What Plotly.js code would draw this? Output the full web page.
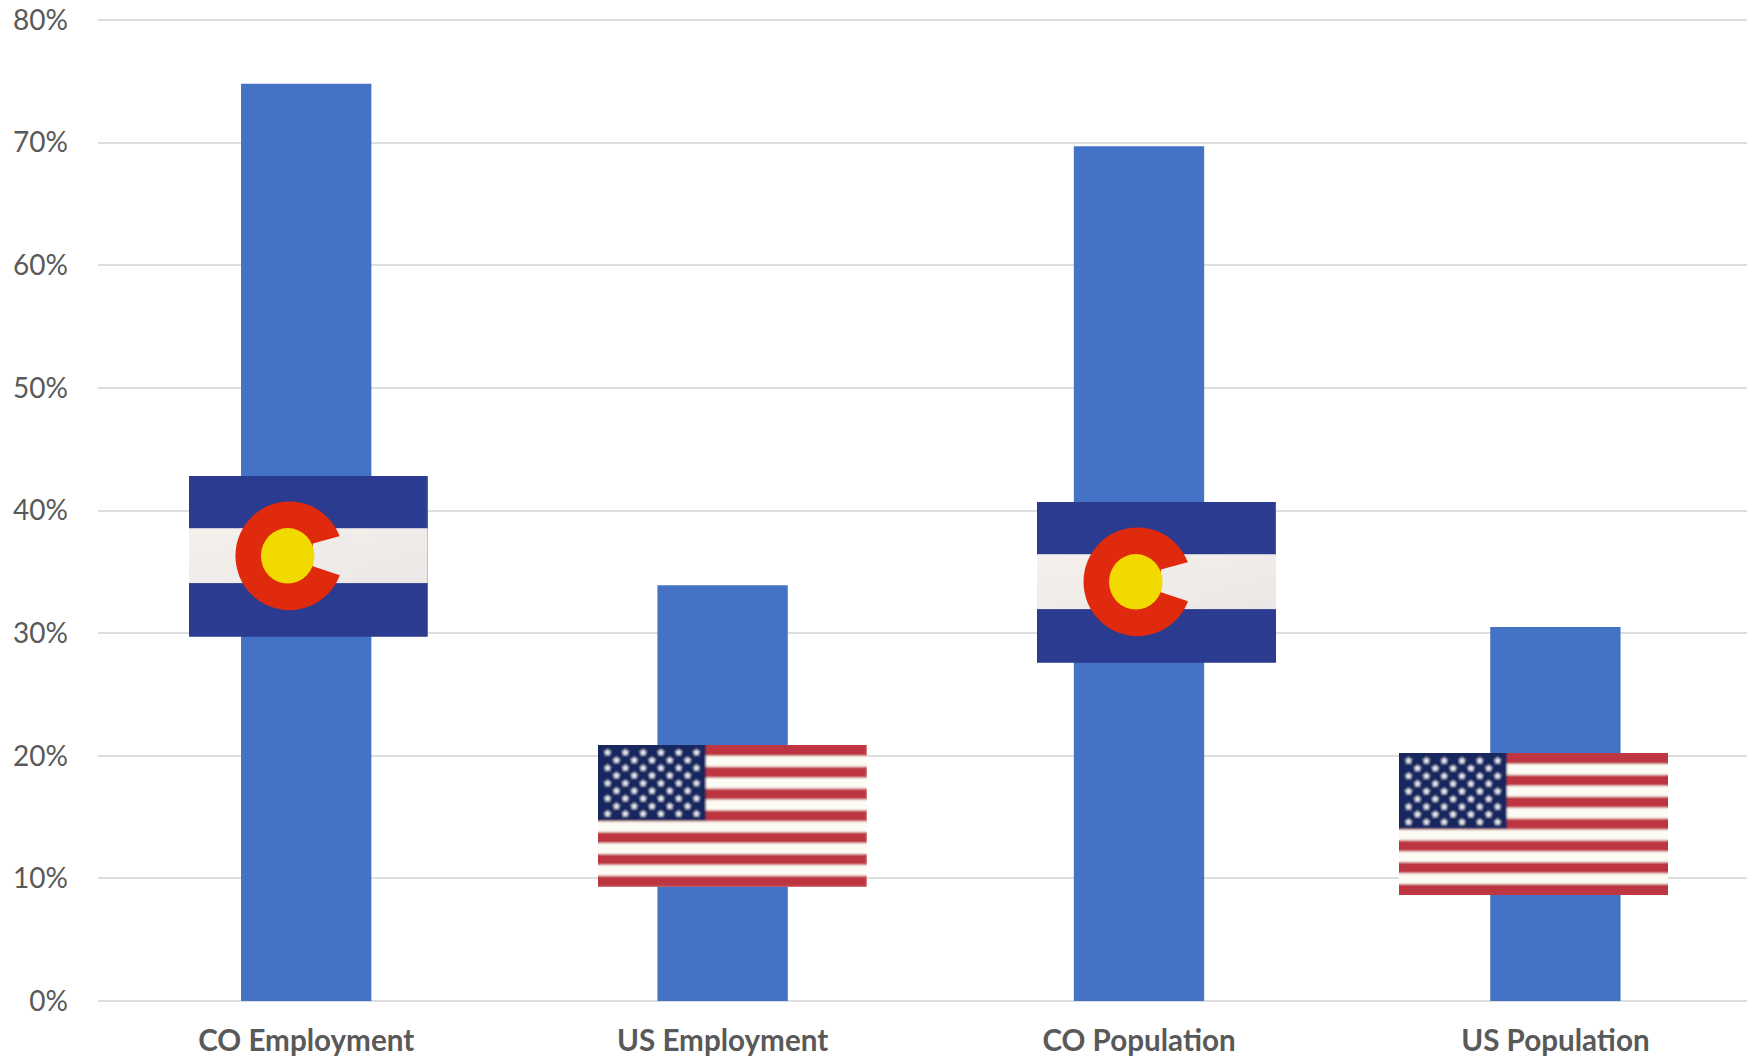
<!DOCTYPE html>
<html>
<head>
<meta charset="utf-8">
<script src="https://cdn.plot.ly/plotly-3.0.1.min.js"></script>
<style>html,body{margin:0;padding:0;background:#fff;overflow:hidden}#chart{width:1747px;height:1059px}</style>
</head>
<body>
<div id="chart"></div>
<script>
// Share of employment and population, Colorado against the United States
const categories = ['CO Employment', 'US Employment', 'CO Population', 'US Population'];
const shares = [0.748, 0.339, 0.697, 0.305];
const yTicks = [0, 0.1, 0.2, 0.3, 0.4, 0.5, 0.6, 0.7, 0.8];

const CHART_W = 1747, CHART_H = 1059;
const MARGIN = {l: 98, r: 0, t: 15, b: 58};
const CATEGORY_PITCH = 416.4;   // px per category; the last slot runs off the right edge
const Y_MAX = 986 / 1226.25;    // a little headroom so the 80% gridline is kept

// Flag badges: left/right in px across the page, top/bottom on the value axis
const flagBadges = [
  {kind: 'co', x0: 189,  x1: 427.7, top: 0.4281, bottom: 0.2971},
  {kind: 'us', x0: 598,  x1: 866.7, top: 0.2088, bottom: 0.0932},
  {kind: 'co', x0: 1037, x1: 1276,  top: 0.4069, bottom: 0.2759},
  {kind: 'us', x0: 1399, x1: 1668,  top: 0.2022, bottom: 0.0864}
];

// The soft layer sits over a sharp copy so that the flag edges stay solid
function svgUri(w, h, body, soft, defs) {
  const svg = `<svg xmlns="http://www.w3.org/2000/svg" width="${w}" height="${h}" viewBox="0 0 ${w} ${h}" preserveAspectRatio="none">` +
    `<defs><filter id="s" x="0" y="0" width="1" height="1"><feGaussianBlur stdDeviation="${soft}"/></filter>${defs || ''}</defs>` +
    `<g>${body}</g><g filter="url(#s)">${body}</g></svg>`;
  return 'data:image/svg+xml;base64,' + btoa(svg);
}

function coloradoFlag() {
  const defs = '<linearGradient id="w" x1="0" y1="0" x2="1" y2="1">' +
    '<stop offset="0" stop-color="#f4f1ec"/><stop offset="1" stop-color="#ece7e6"/></linearGradient>';
  const body =
    '<rect width="239" height="161" fill="#2b3a90"/>' +
    '<rect y="52.3" width="239" height="55" fill="url(#w)"/>' +
    '<rect x="238" width="1" height="52" fill="#35679a"/>' +
    '<ellipse cx="100.5" cy="80" rx="54" ry="54.5" fill="#e0290b"/>' +
    '<polygon points="124,67.5 149.5,60.5 162,57 162,103 149.5,99 124,90.5" fill="#efebe8"/>' +
    '<rect y="0" width="239" height="52.3" fill="none"/>' +
    '<ellipse cx="98.8" cy="80" rx="26.8" ry="27.8" fill="#f0da00"/>';
  return svgUri(239, 161, body, 0.6, defs);
}

function starPoints(cx, cy, r) {
  const pts = [];
  for (let i = 0; i < 10; i++) {
    const rad = i % 2 ? r * 0.5 : r;
    const a = -Math.PI / 2 + i * Math.PI / 5;
    pts.push((cx + rad * Math.cos(a)).toFixed(2) + ',' + (cy + rad * Math.sin(a)).toFixed(2));
  }
  return pts.join(' ');
}

function usFlag() {
  const W = 269, H = 142, stripe = H / 13;
  let body = `<rect width="${W}" height="${H}" fill="#fcfbf4"/>`;
  for (let i = 0; i < 13; i += 2) {
    body += `<rect y="${(i * stripe).toFixed(2)}" width="${W}" height="${stripe.toFixed(2)}" fill="#bd3440"/>`;
  }
  body += '<rect width="108" height="76" fill="#12265e"/>';
  for (let row = 0; row < 9; row++) {
    const count = row % 2 ? 5 : 6;
    for (let col = 0; col < count; col++) {
      const x = 9.6 + (row % 2 ? 8.9 : 0) + col * 17.8;
      const y = 7.7 + row * 7.67;
      body += `<polygon points="${starPoints(x, y, 3.9)}" fill="#f4f7fd"/>`;
    }
  }
  return svgUri(W, H, body, 0.9);
}

const sources = {co: coloradoFlag(), us: usFlag()};
const plotW = CHART_W - MARGIN.l - MARGIN.r;

const images = flagBadges.map(f => ({
  source: sources[f.kind],
  xref: 'paper', yref: 'y',
  x: (f.x0 - MARGIN.l) / plotW,
  y: f.top,
  sizex: (f.x1 - f.x0) / plotW,
  sizey: f.top - f.bottom,
  xanchor: 'left', yanchor: 'top',
  sizing: 'stretch',
  layer: 'above'
}));

const bars = {
  type: 'bar',
  x: categories,
  y: shares,
  width: 0.313,
  marker: {color: '#4472c4', line: {width: 0}},
  hoverinfo: 'x+y'
};

const layout = {
  width: CHART_W,
  height: CHART_H,
  margin: MARGIN,
  paper_bgcolor: '#ffffff',
  plot_bgcolor: '#ffffff',
  showlegend: false,
  images: images,
  xaxis: {
    type: 'category',
    range: [-0.5, plotW / CATEGORY_PITCH - 0.5],
    showgrid: false,
    zeroline: false,
    showline: false,
    ticks: '',
    ticklabelstandoff: 19,
    tickfont: {family: 'Lato, "Open Sans", sans-serif', size: 29.6, color: '#595959', weight: 700}
  },
  yaxis: {
    range: [0, Y_MAX],
    tickvals: yTicks,
    tickformat: '.0%',
    showgrid: true,
    gridcolor: '#dedede',
    gridwidth: 2,
    zeroline: true,
    zerolinecolor: '#dedede',
    zerolinewidth: 2,
    showline: false,
    ticks: '',
    ticklabelstandoff: 29,
    tickfont: {family: 'Lato, "Open Sans", sans-serif', size: 28, color: '#595959'}
  }
};

Plotly.newPlot('chart', [bars], layout, {displayModeBar: false, responsive: false});
</script>
</body>
</html>
